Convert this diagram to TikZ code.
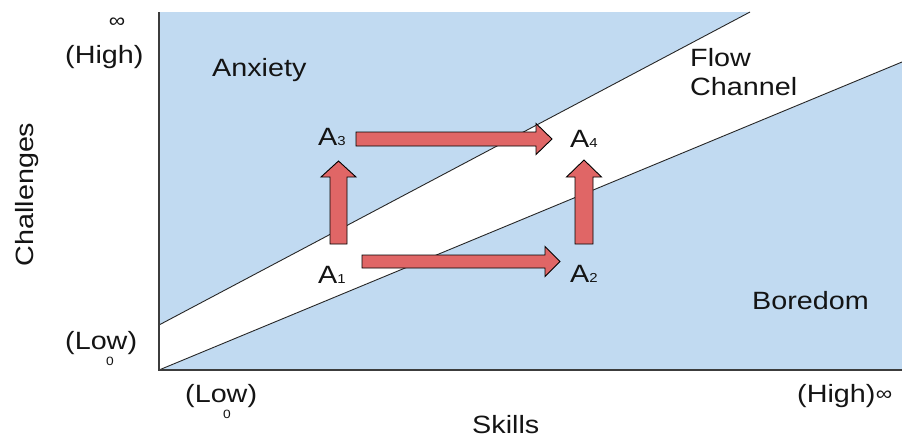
\documentclass[tikz,border=0pt]{standalone}
\usepackage{fontspec}
\setmainfont{Liberation Sans}[FakeStretch=1.15]
\usetikzlibrary{calc}
\definecolor{zoneblue}{RGB}{193,218,241}
\definecolor{arrowred}{RGB}{224,102,102}
\definecolor{axisgray}{RGB}{60,60,60}
\newcommand{\subdig}[1]{{\fontsize{13}{13}\selectfont #1}}
\newcommand{\blockH}[5]{%
  \draw[blockarrow] let \p1=(#1), \p2=(#2) in
    (\x1,\y1+#3) -- (\x2-#5,\y1+#3) -- (\x2-#5,\y1+#4) -- (\x2,\y1)
    -- (\x2-#5,\y1-#4) -- (\x2-#5,\y1-#3) -- (\x1,\y1-#3) -- cycle;}
\newcommand{\blockV}[5]{%
  \draw[blockarrow] let \p1=(#1), \p2=(#2) in
    (\x1-#3,\y1) -- (\x1-#3,\y2-#5) -- (\x1-#4,\y2-#5) -- (\x1,\y2)
    -- (\x1+#4,\y2-#5) -- (\x1+#3,\y2-#5) -- (\x1+#3,\y1) -- cycle;}
\begin{document}
\begin{tikzpicture}[x=1pt,y=-1pt,
  lab/.style={font=\fontsize{25}{29}\selectfont, inner sep=0pt, text=black!92},
  small/.style={font=\fontsize{12}{12}\selectfont, inner sep=0pt, text=black!92},
  inf/.style={font=\fontsize{20}{20}\selectfont, inner sep=0pt, text=black!92},
  blockarrow/.style={fill=arrowred, draw=black, line width=0.9pt, line join=miter},
  divider/.style={draw=black!85, line width=0.9pt},
  axisline/.style={draw=axisgray, line width=1.6pt}]
\useasboundingbox (0,0) rectangle (902,440);
% zones
\fill[zoneblue] (159,12) rectangle (902,370);
\coordinate (ul0) at (159,325);
\coordinate (ul1) at (750,12);
\coordinate (ll0) at (159,370);
\coordinate (ll1) at (902,62);
\coordinate (tr) at (902,12);
\fill[white] (ul0) -- (ul1) -- (tr) -- (ll1) -- (ll0) -- cycle;
\draw[divider] (ul0) -- (ul1);
\draw[divider] (ll0) -- (ll1);
% axes
\coordinate (ytop) at (159,12);
\coordinate (orig) at (159,370);
\coordinate (xend) at (902,370);
\draw[axisline] (ytop) -- (orig) -- (xend);
% zone labels
\node[lab, anchor=base west] (anx) at (212,76) {Anxiety};
\node[lab, anchor=base west, align=left] (flow) at (690,95) {Flow\\Channel};
\node[lab, anchor=base west] (bore) at (752,309) {Boredom};
% axis labels
\node[lab, anchor=base, rotate=90] (chal) at (33,194.5) {Challenges};
\node[lab, anchor=base west] (skills) at (472,433) {Skills};
\node[lab, anchor=base west] (yhigh) at (65,63) {(High)};
\node[inf] (yinf) at (117,23) {∞};
\node[lab, anchor=base west] (ylow) at (65,349) {(Low)};
\node[small] (yzero) at (110,361) {0};
\node[lab, anchor=base west] (xlow) at (185,402) {(Low)};
\node[small] (xzero) at (227,414) {0};
\node[lab, anchor=base west] (xhigh) at (797,402) {(High)};
\node[inf, anchor=west] (xinf) at (xhigh.east |- 0,396) {∞};
% states
\node[lab, anchor=base west] (A1) at (318,283) {A\subdig{1}};
\node[lab, anchor=base west] (A2) at (570,282) {A\subdig{2}};
\node[lab, anchor=base west] (A3) at (318,145) {A\subdig{3}};
\node[lab, anchor=base west] (A4) at (570,147) {A\subdig{4}};
% arrows
\coordinate (a12s) at (362,261.5);
\coordinate (a12t) at (560,261.5);
\coordinate (a34s) at (356,139);
\coordinate (a34t) at (552,139);
\coordinate (a13s) at (338.5,244);
\coordinate (a13t) at (338.5,161);
\coordinate (a24s) at (584,244);
\coordinate (a24t) at (584,160);
\blockH{a12s}{a12t}{6.5pt}{15pt}{15pt}
\blockH{a34s}{a34t}{7pt}{15.5pt}{16pt}
\blockV{a13s}{a13t}{8.5pt}{17.5pt}{16pt}
\blockV{a24s}{a24t}{9pt}{17.5pt}{17pt}
\end{tikzpicture}
\end{document}
